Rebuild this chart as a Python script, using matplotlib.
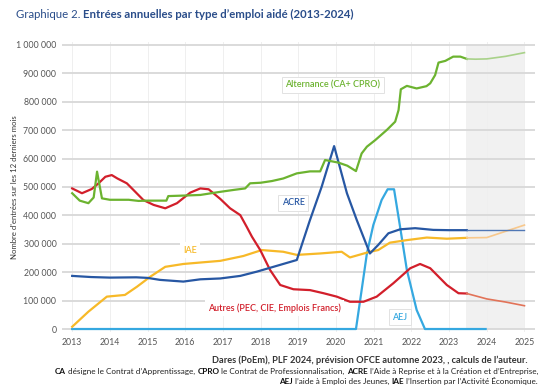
import matplotlib
matplotlib.use("Agg")
import matplotlib.pyplot as plt
import numpy as np

plt.rcParams['font.family'] = ['Lato', 'DejaVu Sans']

# --- data (thousands of entries) ---
years = [2013, 2014, 2015, 2016, 2017, 2018, 2019, 2020, 2021, 2022, 2023, 2024, 2025]
yticks = [0, 100, 200, 300, 400, 500, 600, 700, 800, 900, 1000]

alt_x = [2013.0, 2013.2, 2013.43, 2013.57, 2013.66, 2013.79, 2014.0, 2014.5, 2014.76, 2015.0,
         2015.5, 2015.55, 2016.0, 2016.4, 2016.93, 2017.3, 2017.59, 2017.72, 2018.0, 2018.3,
         2018.6, 2018.96, 2019.31, 2019.58, 2019.71, 2020.06, 2020.3, 2020.53, 2020.68, 2020.82,
         2021.04, 2021.35, 2021.57, 2021.66, 2021.72, 2021.88, 2022.14, 2022.4, 2022.5, 2022.63,
         2022.72, 2022.9, 2023.11, 2023.3, 2023.47]
alt_y = [478, 452, 443, 463, 554, 460, 455, 455, 451, 452,
         452, 468, 470, 472, 483, 490, 495, 513, 515, 521,
         530, 548, 555, 555, 595, 586, 575, 556, 618, 642,
         665, 701, 730, 771, 844, 856, 847, 855, 865, 894,
         938, 944, 959, 959, 951]
alt_fx = [2023.47, 2023.7, 2024.0, 2024.5, 2025.0]
alt_fy = [951, 950, 951, 960, 973]

acre_x = [2013.0, 2013.5, 2014.0, 2014.7, 2015.0, 2015.33, 2015.95, 2016.4, 2016.93, 2017.46,
          2017.9, 2018.34, 2018.96, 2019.3, 2019.62, 2019.95, 2020.29, 2020.55, 2020.9, 2021.12,
          2021.39, 2021.7, 2022.1, 2022.58, 2023.0, 2023.47]
acre_y = [187, 183, 181, 182, 180, 173, 167, 175, 178, 187,
          202, 219, 243, 380, 501, 644, 478, 384, 266, 296,
          337, 351, 355, 349, 348, 348]
acre_fx = [2023.47, 2025.0]
acre_fy = [348, 348]

aut_x = [2013.0, 2013.26, 2013.52, 2013.7, 2013.88, 2014.05, 2014.2, 2014.45, 2014.63, 2014.89,
         2015.16, 2015.47, 2015.78, 2016.13, 2016.4, 2016.62, 2016.93, 2017.19, 2017.46, 2017.63,
         2017.77, 2017.99, 2018.25, 2018.52, 2018.87, 2019.31, 2019.67, 2020.02, 2020.37, 2020.73,
         2021.08, 2021.52, 2021.97, 2022.23, 2022.5, 2022.94, 2023.25, 2023.47]
aut_y = [495, 478, 493, 513, 536, 542, 530, 513, 489, 454,
         437, 425, 443, 480, 495, 492, 458, 425, 401, 360,
         325, 278, 208, 155, 140, 137, 126, 114, 96, 96,
         114, 161, 214, 229, 214, 155, 126, 125]
aut_fx = [2023.47, 2024.0, 2024.5, 2025.0]
aut_fy = [125, 106, 95, 82]

iae_x = [2013.0, 2013.43, 2013.92, 2014.4, 2014.72, 2015.07, 2015.47, 2015.95, 2016.48, 2016.93,
         2017.54, 2018.03, 2018.6, 2018.96, 2019.58, 2020.15, 2020.37, 2020.9, 2021.12, 2021.43,
         2021.88, 2022.41, 2022.94, 2023.47]
iae_y = [8, 61, 114, 120, 149, 184, 219, 229, 235, 240,
         257, 278, 272, 261, 266, 272, 252, 272, 278, 304,
         313, 322, 318, 321]
iae_fx = [2023.47, 2024.0, 2024.5, 2025.0]
iae_fy = [321, 322, 344, 366]

aej_x = [2013.0, 2020.53, 2020.68, 2020.82, 2020.99, 2021.21, 2021.37, 2021.54, 2021.7, 2021.88,
         2022.14, 2022.36, 2023.97]
aej_y = [0, 0, 137, 266, 366, 454, 492, 492, 360, 208, 67, 0, 0]

GREEN, GREEN_F = '#6cb330', '#a9d28a'
BLUE, BLUE_F = '#2757a3', '#5077b5'
RED, RED_F = '#d21f2b', '#e27358'
YEL, YEL_F = '#f7b928', '#f8c88c'
LBLUE = '#35a8e0'
TITLE_C = '#2a4d8a'

fig = plt.figure(figsize=(5.5, 3.9), dpi=100)
W, H = 550, 390
ax = fig.add_axes([62 / W, 58 / H, (535 - 62) / W, 290 / H])

k = 1000
ax.set_xlim(2012.73, 2025.28)
ax.set_ylim(-10.5 * k, 1010.5 * k)

# forecast shading
ax.fill_between([2023.45, 2025.0], 0, 1000 * k, color='#f1f1f1', zorder=0, lw=0)

# grid
for yv in yticks:
    ax.axhline(yv * k, color='#dadada', lw=1.4, zorder=0.5)
for xv in years:
    ax.axvline(xv, color='#efefef', lw=0.7, zorder=0.4)

def k_arr(v):
    return np.array(v) * k

ax.plot(aej_x, k_arr(aej_y), color=LBLUE, lw=1.6, zorder=3)
ax.plot(iae_x, k_arr(iae_y), color=YEL, lw=1.6, zorder=3)
ax.plot(iae_fx, k_arr(iae_fy), color=YEL_F, lw=1.2, zorder=3)
ax.plot(aut_x, k_arr(aut_y), color=RED, lw=1.6, zorder=3)
ax.plot(aut_fx, k_arr(aut_fy), color=RED_F, lw=1.2, zorder=3)
ax.plot(acre_x, k_arr(acre_y), color=BLUE, lw=1.6, zorder=3)
ax.plot(acre_fx, k_arr(acre_fy), color=BLUE_F, lw=1.0, zorder=3)
ax.plot(alt_x, k_arr(alt_y), color=GREEN, lw=1.6, zorder=3)
ax.plot(alt_fx, k_arr(alt_fy), color=GREEN_F, lw=1.2, zorder=3)

# series labels
box = dict(boxstyle='square,pad=0.35', fc='white', ec='#e2e2e2', lw=0.7)
nobox = dict(boxstyle='square,pad=0.35', fc='white', ec='none')
lab = dict(fontsize=6.5, ha='center', va='center', fontweight='semibold')
ax.text(2019.92, 859 * k, 'Alternance (CA+ CPRO)', color=GREEN, bbox=box, zorder=4, **lab)
ax.text(2018.86, 444 * k, 'ACRE', color=BLUE, bbox=box, zorder=4, **lab)
ax.text(2016.13, 278 * k, 'IAE', color=YEL, bbox=nobox, zorder=2, **lab)
ax.text(2018.36, 74 * k, 'Autres (PEC, CIE, Emplois Francs)', color=RED, bbox=nobox,
        zorder=4, **lab)
ax.text(2021.7, 42 * k, 'AEJ', color=LBLUE, bbox=box, zorder=4, **lab)

# axes styling
ax.set_xticks(years)
ax.set_xticklabels([str(y) for y in years])
ax.set_yticks([v * k for v in yticks])
ax.set_yticklabels(['{:,}'.format(v * k).replace(',', ' ') for v in yticks])
ax.tick_params(length=0, labelsize=6.3, labelcolor='#555555', pad=4)
for s in ax.spines.values():
    s.set_visible(False)
ax.patch.set_visible(False)
ax.set_ylabel("Nombre d'entrées sur les 12 derniers mois", fontsize=5.6, color='#333333',
              labelpad=6)
ax.yaxis.set_label_coords(-0.094, 0.5)

# rich text helper (pieces of normal/bold text placed side by side)
renderer = fig.canvas.get_renderer()

def rich(x_px, y_px, parts, size, align='left'):
    sp = fig.text(0, 0, 'x x', fontsize=size)
    nsp = fig.text(0, 0, 'xx', fontsize=size)
    space = sp.get_window_extent(renderer).width - nsp.get_window_extent(renderer).width
    sp.remove()
    nsp.remove()
    items = []
    for txt, wt, c in parts:
        t = fig.text(0, 1 - y_px / H, txt, fontsize=size, fontweight=wt, color=c, va='baseline')
        items.append(t)
    widths = [t.get_window_extent(renderer).width for t in items]
    total = sum(widths) + space * (len(items) - 1)
    x = x_px - total if align == 'right' else x_px
    for t, w in zip(items, widths):
        t.set_x(x / W)
        x += w + space

rich(16, 18, [('Graphique 2.', 'normal', TITLE_C),
              ('Entrées annuelles par type d’emploi aidé (2013-2024)', 'bold', TITLE_C)],
     8.2)

rich(528, 363, [('Dares (PoEm), PLF 2024, prévision OFCE automne 2023, , calculs de l’auteur.',
                 'bold', '#333333')], 6.7, align='right')
rich(538, 374, [('CA', 'bold', '#111111'),
                ('désigne le Contrat d’Apprentissage,', 'normal', '#222222'),
                ('CPRO', 'bold', '#111111'),
                ('le Contrat de Professionnalisation,', 'normal', '#222222'),
                ('ACRE', 'bold', '#111111'),
                ('l’Aide à Reprise et à la Création et d’Entreprise,', 'normal', '#222222')],
     5.85, align='right')
rich(538, 384, [('AEJ', 'bold', '#111111'),
                ('l’aide à Emploi des Jeunes,', 'normal', '#222222'),
                ('IAE', 'bold', '#111111'),
                ('l’Insertion par l’Activité Économique.', 'normal', '#222222')],
     5.85, align='right')

fig.savefig('out.png', dpi=100)
